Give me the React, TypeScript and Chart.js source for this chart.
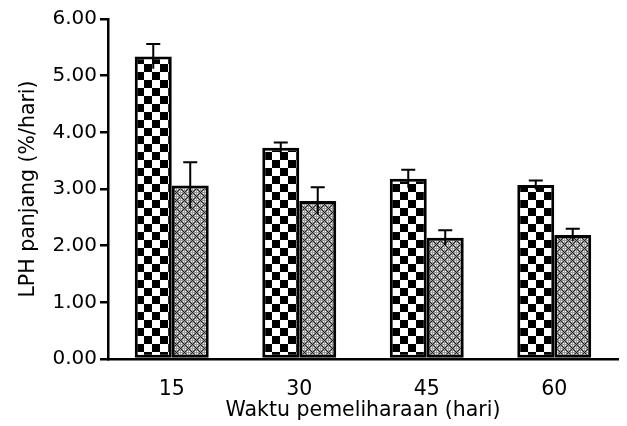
import React, { useEffect, useRef } from "react";
import { Chart, registerables } from "chart.js";

Chart.register(...registerables);

const categories = ["15", "30", "45", "60"];
const seriesA = [5.34, 3.73, 3.18, 3.07];
const errorsA = [0.22, 0.09, 0.16, 0.08];
const seriesB = [3.06, 2.79, 2.14, 2.19];
const errorsB = [0.41, 0.24, 0.13, 0.11];
const yTicks = [0, 1, 2, 3, 4, 5, 6];

function makeChecker(): CanvasPattern | string {
  const c = document.createElement("canvas");
  c.width = 16;
  c.height = 16;
  const ctx = c.getContext("2d");
  if (!ctx) return "#000";
  ctx.fillStyle = "#fff";
  ctx.fillRect(0, 0, 16, 16);
  ctx.fillStyle = "#000";
  ctx.fillRect(0, 0, 8, 8);
  ctx.fillRect(8, 8, 8, 8);
  return ctx.createPattern(c, "repeat") || "#000";
}

function makeHatch(): CanvasPattern | string {
  const s = 8;
  const c = document.createElement("canvas");
  c.width = s;
  c.height = s;
  const ctx = c.getContext("2d");
  if (!ctx) return "#888";
  const img = ctx.createImageData(s, s);
  for (let y = 0; y < s; y++) {
    for (let x = 0; x < s; x++) {
      const i = (y * s + x) * 4;
      let v = 255;
      const d1 = (x + y) % 8;
      const d2 = (x - y + 8) % 8;
      if (d1 === 0 || d2 === 0) v = 30;
      else if (x % 2 === 1 && y % 2 === 1) v = 255;
      else if (x % 2 === 0 || y % 2 === 0) v = 150;
      else v = 220;
      img.data[i] = v;
      img.data[i + 1] = v;
      img.data[i + 2] = v;
      img.data[i + 3] = 255;
    }
  }
  ctx.putImageData(img, 0, 0);
  return ctx.createPattern(c, "repeat") || "#888";
}

const errorBarPlugin = {
  id: "errorBars",
  afterDatasetsDraw(chart: any) {
    const ctx = chart.ctx;
    const yScale = chart.scales.y;
    const errs = [errorsA, errorsB];
    ctx.save();
    ctx.strokeStyle = "#000";
    ctx.lineWidth = 2;
    chart.data.datasets.forEach((ds: any, di: number) => {
      const meta = chart.getDatasetMeta(di);
      meta.data.forEach((bar: any, i: number) => {
        const v = ds.data[i];
        const e = errs[di][i];
        const x = bar.x;
        const yTop = yScale.getPixelForValue(v + e);
        const yBot = yScale.getPixelForValue(v - e);
        ctx.beginPath();
        ctx.moveTo(x, yBot);
        ctx.lineTo(x, yTop);
        ctx.moveTo(x - 7, yTop);
        ctx.lineTo(x + 7, yTop);
        ctx.stroke();
      });
    });
    ctx.restore();
  },
};

export default function App() {
  const ref = useRef<HTMLCanvasElement>(null);
  useEffect(() => {
    if (!ref.current) return;
    const fam = "'DejaVu Sans', sans-serif";
    const chart = new Chart(ref.current, {
      type: "bar",
      data: {
        labels: categories,
        datasets: [
          {
            label: "A",
            data: seriesA,
            backgroundColor: makeChecker() as any,
            borderColor: "#000",
            borderWidth: 3,
            borderSkipped: false,
          },
          {
            label: "B",
            data: seriesB,
            backgroundColor: makeHatch() as any,
            borderColor: "#000",
            borderWidth: 3,
            borderSkipped: false,
          },
        ],
      },
      options: {
        animation: false,
        responsive: false,
        maintainAspectRatio: false,
        layout: { padding: { left: 16, right: 9, top: 19, bottom: 0 } },
        plugins: { legend: { display: false }, tooltip: { enabled: false } },
        datasets: { bar: { categoryPercentage: 0.58, barPercentage: 1 } },
        scales: {
          x: {
            grid: { display: false, drawTicks: false },
            border: { display: true, color: "#000", width: 2.5 },
            ticks: { color: "#000", font: { family: fam, size: 20.5 }, padding: 18 },
            title: {
              display: true,
              text: "Waktu pemeliharaan (hari)",
              color: "#000",
              font: { family: fam, size: 20.5 },
              padding: { top: 0, bottom: 3 },
            },
            afterFit: (s: any) => {
              s.height = 67;
            },
          },
          y: {
            min: 0,
            max: 6,
            afterBuildTicks: (s: any) => {
              s.ticks = yTicks.map((v) => ({ value: v }));
            },
            grid: {
              drawOnChartArea: false,
              drawTicks: true,
              tickLength: 8,
              color: "#000",
              lineWidth: 2.5,
            },
            border: { display: true, color: "#000", width: 2.5 },
            ticks: {
              color: "#000",
              font: { family: fam, size: 20 },
              padding: 3,
              callback: (v: any) => Number(v).toFixed(2),
            },
            title: {
              display: true,
              text: "LPH panjang (%/hari)",
              color: "#000",
              font: { family: fam, size: 20.5 },
              padding: { top: 0, bottom: 6 },
            },
            afterFit: (s: any) => {
              s.width = 92;
            },
          },
        },
      },
      plugins: [errorBarPlugin],
    });
    return () => chart.destroy();
  }, []);
  return (
    <div style={{ position: "absolute", left: 0, top: 0, width: 627, height: 426, background: "#fff" }}>
      <canvas ref={ref} width={627} height={426} style={{ width: 627, height: 426 }} />
    </div>
  );
}
